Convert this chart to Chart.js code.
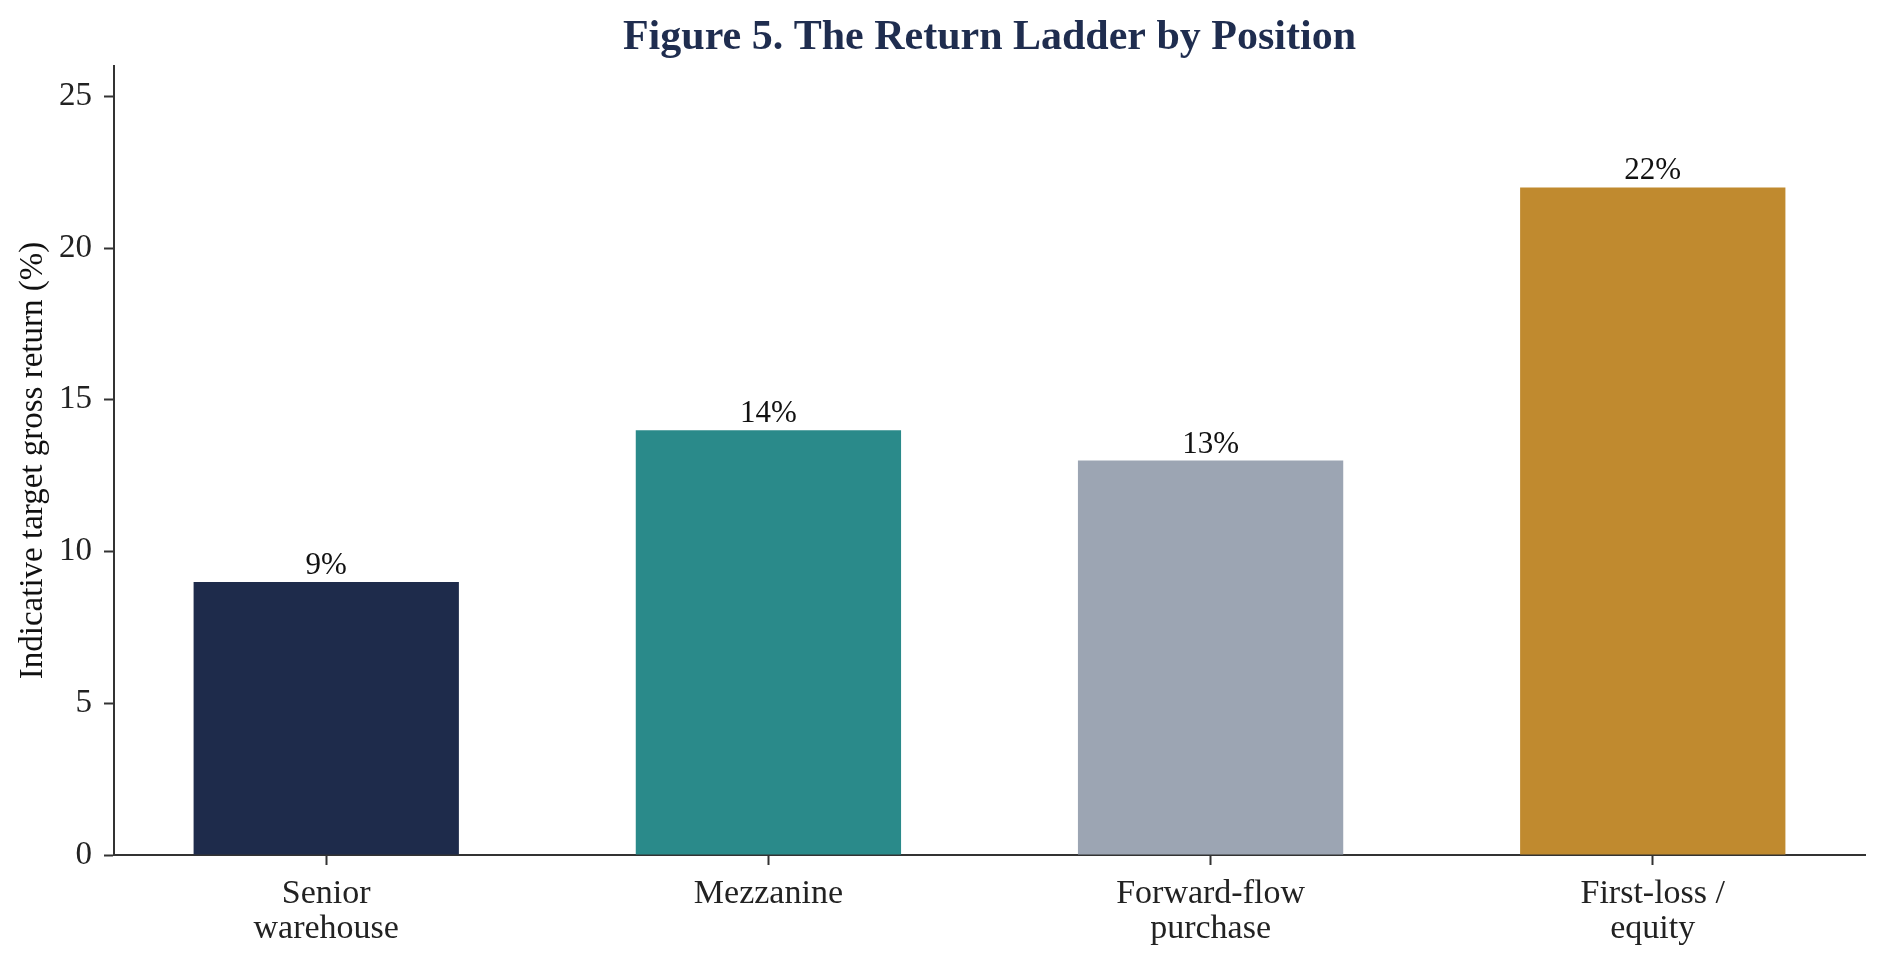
<!DOCTYPE html>
<html>
<head>
<meta charset="utf-8">
<script src="https://cdn.jsdelivr.net/npm/chart.js@4/dist/chart.umd.min.js"></script>
<style>
  html, body { margin: 0; padding: 0; background: #ffffff; }
  #wrap { width: 1884px; height: 966px; position: relative; }
</style>
</head>
<body>
<div id="wrap"><canvas id="c" width="1884" height="966"></canvas></div>
<script>
const categories = [["Senior", "warehouse"], "Mezzanine", ["Forward-flow", "purchase"], ["First-loss /", "equity"]];
const returnsPct = [9, 14, 13, 22];
const valueLabels = ["9%", "14%", "13%", "22%"];
const barColors = ["#1e2b4b", "#2a8a8a", "#9ca5b3", "#c08a2f"];
const yTickValues = [0, 5, 10, 15, 20, 25];
const titleText = "Figure 5. The Return Ladder by Position";
const yAxisTitle = "Indicative target gross return (%)";

const SERIF = "'Liberation Serif', 'Times New Roman', serif";

const titlePlugin = {
  id: 'customTitle',
  afterDraw(chart) {
    const ctx = chart.ctx;
    const area = chart.chartArea;
    ctx.save();
    ctx.font = "bold 42px " + SERIF;
    ctx.fillStyle = "#1f2d4f";
    ctx.textAlign = "center";
    ctx.textBaseline = "alphabetic";
    ctx.fillText(titleText, (area.left + area.right) / 2, 49);
    ctx.restore();
  }
};

const valueLabelPlugin = {
  id: 'valueLabels',
  afterDatasetsDraw(chart) {
    const ctx = chart.ctx;
    const meta = chart.getDatasetMeta(0);
    ctx.save();
    ctx.font = "31px " + SERIF;
    ctx.fillStyle = "#111111";
    ctx.textAlign = "center";
    ctx.textBaseline = "alphabetic";
    meta.data.forEach((bar, i) => {
      ctx.fillText(valueLabels[i], bar.x, bar.y - 8);
    });
    ctx.restore();
  }
};

new Chart(document.getElementById('c'), {
  type: 'bar',
  data: {
    datasets: [{
      data: returnsPct.map((v, i) => ({ x: i, y: v })),
      backgroundColor: barColors,
      borderWidth: 0,
      barPercentage: 0.6,
      categoryPercentage: 1.0
    }]
  },
  options: {
    responsive: false,
    animation: false,
    devicePixelRatio: 1,
    layout: { padding: { left: 0, right: 19, top: 66, bottom: 0 } },
    plugins: {
      legend: { display: false },
      title: { display: false },
      tooltip: { enabled: false }
    },
    scales: {
      x: {
        type: 'linear',
        min: -0.48,
        max: 3.48,
        offset: false,
        afterBuildTicks(scale) {
          scale.ticks = categories.map((c, i) => ({ value: i }));
        },
        afterFit(scale) { scale.height = 111; },
        grid: {
          offset: false,
          drawOnChartArea: false,
          drawTicks: true,
          tickLength: 10,
          tickColor: "#333333",
          tickWidth: 2
        },
        border: { display: true, color: "#333333", width: 2 },
        ticks: {
          autoSkip: false,
          maxRotation: 0,
          minRotation: 0,
          padding: 12,
          color: "#222222",
          font: { family: SERIF, size: 34, lineHeight: 1.03 },
          callback(value) { return categories[value]; }
        }
      },
      y: {
        type: 'linear',
        min: 0,
        max: 26,
        afterBuildTicks(scale) {
          scale.ticks = yTickValues.map(v => ({ value: v }));
        },
        afterFit(scale) { scale.width = 114; },
        grid: {
          drawOnChartArea: false,
          drawTicks: true,
          tickLength: 10,
          tickColor: "#333333",
          tickWidth: 2
        },
        border: { display: true, color: "#333333", width: 2 },
        ticks: {
          padding: 12,
          color: "#222222",
          font: { family: SERIF, size: 33 }
        },
        title: {
          display: true,
          text: yAxisTitle,
          color: "#111111",
          font: { family: SERIF, size: 33 },
          padding: { top: 14, bottom: 0 }
        }
      }
    }
  },
  plugins: [titlePlugin, valueLabelPlugin]
});
</script>
</body>
</html>
